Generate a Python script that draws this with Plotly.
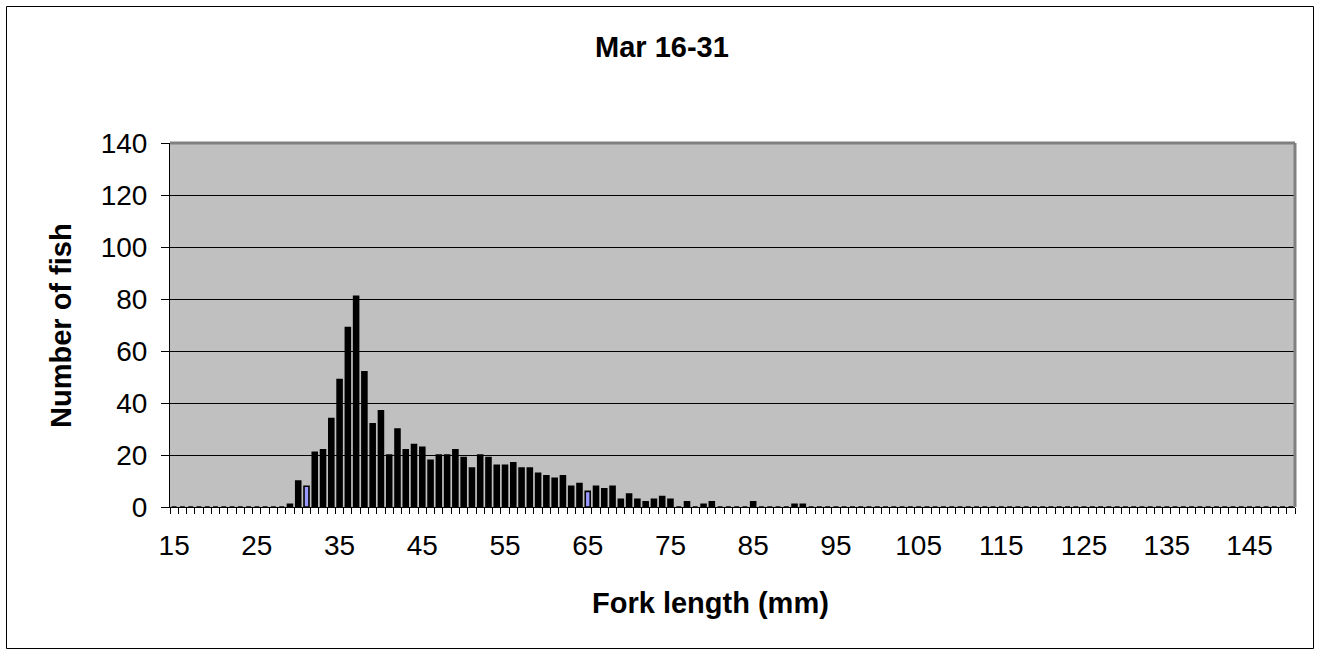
import plotly.graph_objects as go

# ---- data ----
fork_length = list(range(15, 151))
counts_by_length = {
    29: 1, 30: 10, 31: 8, 32: 21, 33: 22, 34: 34, 35: 49, 36: 69, 37: 81, 38: 52,
    39: 32, 40: 37, 41: 20, 42: 30, 43: 22, 44: 24, 45: 23, 46: 18, 47: 20, 48: 20,
    49: 22, 50: 19, 51: 15, 52: 20, 53: 19, 54: 16, 55: 16, 56: 17, 57: 15, 58: 15,
    59: 13, 60: 12, 61: 11, 62: 12, 63: 8, 64: 9, 65: 6, 66: 8, 67: 7, 68: 8,
    69: 3, 70: 5, 71: 3, 72: 2, 73: 3, 74: 4, 75: 3, 77: 2, 79: 1, 80: 2,
    85: 2, 90: 1, 91: 1,
}
number_of_fish = [counts_by_length.get(L, 0) for L in fork_length]
x_tick_labels = list(range(15, 146, 10))
y_ticks = list(range(0, 141, 20))
highlighted_lengths = [31, 65]

# ---- layout geometry ----
W, H = 1320, 655
L_PX, R_PX, T_PX, B_PX = 170, 1295, 143, 507
pw, ph = R_PX - L_PX, B_PX - T_PX

def px(x):
    return (x - L_PX) / pw

def py(y):
    return (B_PX - y) / ph

FONT = "Liberation Sans, Arial, sans-serif"

colors = ["#9999FF" if L in highlighted_lengths else "#000000" for L in fork_length]

fig = go.Figure(go.Bar(
    x=fork_length, y=number_of_fish,
    width=0.6,
    marker=dict(color=colors, line=dict(color="#000000", width=1.6)),
    hoverinfo="x+y",
))

fig.update_layout(
    width=W, height=H,
    margin=dict(l=L_PX, r=W - R_PX, t=T_PX, b=H - B_PX, pad=0),
    paper_bgcolor="white",
    plot_bgcolor="#C0C0C0",
    showlegend=False,
    font=dict(family=FONT, color="black"),
    xaxis=dict(
        range=[14.5, 150.5],
        tickmode="array", tickvals=x_tick_labels, ticktext=[str(v) for v in x_tick_labels],
        ticks="", showgrid=False, zeroline=False,
        showline=True, linecolor="black", linewidth=1,
        tickfont=dict(size=28, family=FONT),
        ticklabelstandoff=13,
        minor=dict(ticks="outside", tick0=14.5, dtick=1, ticklen=6,
                   tickcolor="black", tickwidth=1, showgrid=False),
    ),
    yaxis=dict(
        range=[0, 140], tickvals=y_ticks,
        ticks="outside", ticklen=8, tickcolor="black", tickwidth=1,
        showgrid=True, gridcolor="black", gridwidth=1,
        zeroline=False, showline=True, linecolor="black", linewidth=1,
        tickfont=dict(size=28, family=FONT),
        ticklabelstandoff=8,
    ),
    shapes=[
        dict(type="line", xref="paper", yref="paper", x0=0, x1=1, y0=1, y1=1,
             line=dict(color="#808080", width=3)),
        dict(type="line", xref="paper", yref="paper", x0=1, x1=1, y0=0, y1=1,
             line=dict(color="#808080", width=3)),
        dict(type="rect", xref="paper", yref="paper",
             x0=px(6.5), x1=px(1313.5), y0=py(648.5), y1=py(6.5),
             line=dict(color="black", width=1), fillcolor="rgba(0,0,0,0)"),
    ],
    annotations=[
        dict(text="<b>Mar 16-31</b>", xref="paper", yref="paper",
             x=px(662), y=py(47), xanchor="center", yanchor="middle",
             showarrow=False, font=dict(size=29, family=FONT)),
        dict(text="<b>Fork length (mm)</b>", xref="paper", yref="paper",
             x=px(710), y=py(603), xanchor="center", yanchor="middle",
             showarrow=False, font=dict(size=29, family=FONT)),
        dict(text="<b>Number of fish</b>", xref="paper", yref="paper",
             x=px(61), y=py(326), xanchor="center", yanchor="middle",
             textangle=-90, showarrow=False, font=dict(size=29, family=FONT)),
    ],
)

fig.write_html("out.html", config={"displayModeBar": False},
               post_script="document.body.style.margin='0';")
